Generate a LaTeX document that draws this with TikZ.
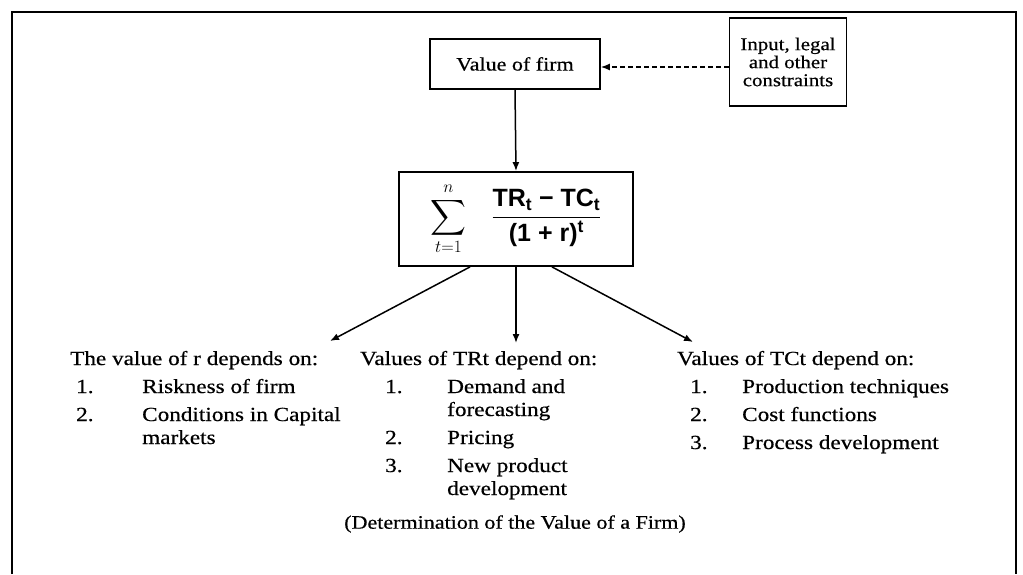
\documentclass[tikz,border=0pt]{standalone}
\usepackage{fontspec}
\usepackage{amsmath}
\setmainfont{Liberation Serif}
\newfontfamily\listfont[FakeStretch=1.16,FakeBold=0.5]{Liberation Serif}
\newfontfamily\formfont{Liberation Sans}
\usetikzlibrary{arrows.meta}
\begin{document}
\begin{tikzpicture}[x=1pt,y=-1pt,
  box/.style={draw,line width=1.8pt,inner sep=0pt,align=center},
  link/.style={line width=1.5pt,-{Latex[length=9pt,width=7pt]}},
  dlink/.style={line width=1.3pt,dash pattern=on 5pt off 3pt,-{Latex[length=9pt,width=7pt]}},
  txt/.style={anchor=base west,inner sep=0pt,font=\listfont\fontsize{20}{24}\selectfont},
]
\useasboundingbox (0,0) rectangle (1023,574);
\fill[white] (0,0) rectangle (1023,574);
% open frame around the figure
\draw[line width=2.5pt] (12,574) -- (12,12) -- (1016,12) -- (1016,574);

% top boxes
\node[box,minimum width=170pt,minimum height=50pt,font=\listfont\fontsize{19}{24}\selectfont] (firm) at (515,64) {Value of firm};
\node[box,minimum width=117pt,minimum height=88pt,font=\listfont\fontsize{18}{18}\selectfont] (cons) at (788,62) {Input, legal\\and other\\constraints};

% present value formula
\node[box,minimum width=234pt,minimum height=94pt,font=\fontsize{25}{28}\selectfont] (sum) at (516,219)
  {$\displaystyle\sum_{t=1}^{n}\;\;\;\frac{\text{\formfont\bfseries TR\textsubscript{t} − TC\textsubscript{t}}}{\text{\formfont\bfseries (1 + r)\textsuperscript{t}}}$};

\draw[dlink] (cons.west |- 0,67) -- (firm.east |- 0,67);
\draw[link] (firm.south) -- (sum.north);

% column headings
\node[txt] (hr)  at (70,365)  {The value of r depends on:};
\node[txt] (htr) at (360,365) {Values of TRt depend on:};
\node[txt] (htc) at (677,365) {Values of TCt depend on:};

\coordinate (rtip)  at (330,341);
\coordinate (trtip) at (516,343);
\coordinate (tctip) at (693,342);
\draw[link] ([xshift=-46pt]sum.south) -- (rtip);
\draw[link] (sum.south) -- (trtip);
\draw[link] ([xshift=36pt]sum.south) -- (tctip);

% discount rate factors
\node[txt] (r1n) at (76,393)  {1.};
\node[txt] (r1)  at (142,393) {Riskness of firm};
\node[txt] (r2n) at (76,421)  {2.};
\node[txt] (r2)  at (142,421) {Conditions in Capital};
\node[txt] (r2b) at (142,444) {markets};

% revenue factors
\node[txt] (a1n) at (385,393) {1.};
\node[txt] (a1)  at (447,393) {Demand and};
\node[txt] (a1b) at (447,416) {forecasting};
\node[txt] (a2n) at (385,444) {2.};
\node[txt] (a2)  at (447,444) {Pricing};
\node[txt] (a3n) at (385,472) {3.};
\node[txt] (a3)  at (447,472) {New product};
\node[txt] (a3b) at (447,495) {development};

% cost factors
\node[txt] (c1n) at (690,393) {1.};
\node[txt] (c1)  at (742,393) {Production techniques};
\node[txt] (c2n) at (690,421) {2.};
\node[txt] (c2)  at (742,421) {Cost functions};
\node[txt] (c3n) at (690,449) {3.};
\node[txt] (c3)  at (742,449) {Process development};

% caption
\node[inner sep=0pt,font=\listfont\fontsize{19}{24}\selectfont] (cap) at (515,524) {(Determination of the Value of a Firm)};
\end{tikzpicture}
\end{document}
